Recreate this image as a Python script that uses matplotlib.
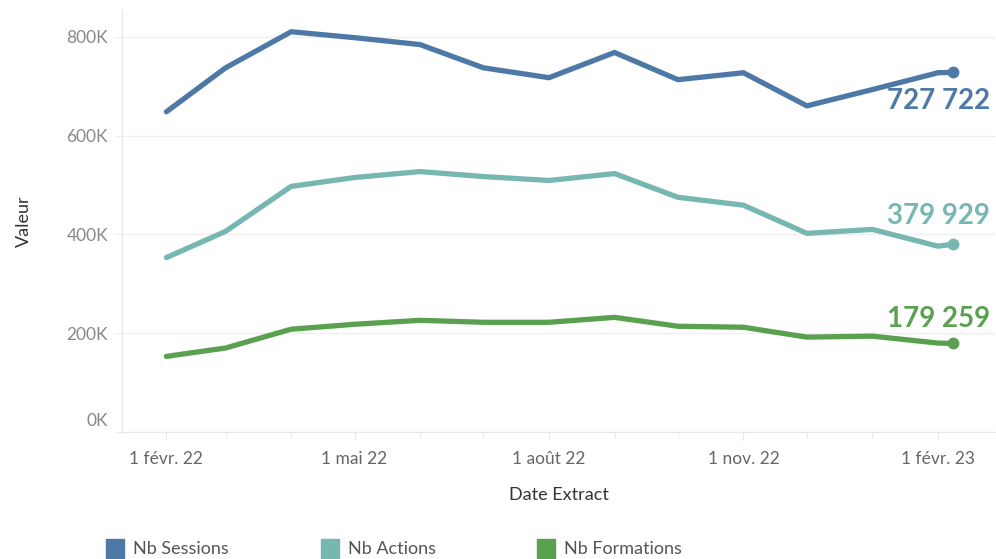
import matplotlib
matplotlib.use("Agg")
import matplotlib.pyplot as plt
import matplotlib.dates as mdates
import matplotlib.transforms as mtransforms
from matplotlib.patches import Rectangle
import numpy as np

dates = ["2022-02-01", "2022-03-01", "2022-04-01", "2022-05-01", "2022-06-01", "2022-07-01",
         "2022-08-01", "2022-09-01", "2022-10-01", "2022-11-01", "2022-12-01", "2023-01-01",
         "2023-02-01", "2023-02-08"]
sessions = [648000, 737000, 810000, 798000, 784000, 737000, 717000, 768000, 713000, 727000,
            660000, 693000, 727000, 727722]
actions = [353000, 406000, 497000, 515000, 527000, 517000, 509000, 523000, 475000, 459000,
           402000, 410000, 376000, 379929]
formations = [153000, 170000, 208000, 218000, 226000, 222000, 222000, 232000, 214000, 212000,
              192000, 194000, 180000, 179259]
series_names = ["Nb Sessions", "Nb Actions", "Nb Formations"]
colors = ["#4e79a7", "#76b7b2", "#59a14f"]
yticks = [0, 200000, 400000, 600000, 800000]
ytick_labels = ["0K", "200K", "400K", "600K", "800K"]
xtick_dates = ["2022-02-01", "2022-05-01", "2022-08-01", "2022-11-01", "2023-02-01"]
xtick_labels = ["1 févr. 22", "1 mai 22", "1 août 22", "1 nov. 22", "1 févr. 23"]

plt.rcParams['font.family'] = ['Lato', 'DejaVu Sans']

x = np.array(dates, dtype="datetime64[D]")
fig = plt.figure(figsize=(9.96, 5.59), dpi=100)
ax = fig.add_axes([122/996, 1-432/559, (995-122)/996, (432-10)/559])

label_offsets = [-29, 28, 24]
for vals, c, off in zip([sessions, actions, formations], colors, label_offsets):
    ax.plot(x, vals, color=c, lw=3.8, solid_capstyle="round", solid_joinstyle="round", zorder=3)
    ax.plot(x[-1:], vals[-1:], "o", color=c, ms=7.5, zorder=4)
    txt = f"{vals[-1]:,}".replace(",", " ")
    ax.annotate(txt, xy=(x[-1], vals[-1]), xytext=(37, off), textcoords="offset pixels",
                ha="right", va="center", fontsize=20, fontweight="bold", color=c, zorder=5,
                annotation_clip=False)

ax.set_ylim(0, 854000)
ax.set_xlim(np.datetime64("2022-01-11"), np.datetime64("2023-02-28"))
ax.set_yticks(yticks)
ax.set_yticklabels(ytick_labels)
ax.set_xticks(np.array(xtick_dates, dtype="datetime64[D]"))
ax.set_xticklabels(xtick_labels)
ax.xaxis.set_minor_locator(mdates.MonthLocator())

ax.grid(axis="y", color="#efefef", lw=1)
ax.set_axisbelow(True)
for s in ["top", "right"]:
    ax.spines[s].set_visible(False)
ax.spines["left"].set_color("#e6e6e6")
ax.spines["bottom"].set_color("#e6e6e6")
ax.tick_params(axis="y", length=6, color="#efefef", labelsize=12.5, labelcolor="#888888", pad=4)
ax.tick_params(axis="x", which="major", length=6, color="#e6e6e6", labelsize=12.5, labelcolor="#666666", pad=8)
ax.tick_params(axis="x", which="minor", length=4, color="#e6e6e6")

lbl0 = ax.get_yticklabels()[0]
lbl0.set_transform(lbl0.get_transform() + mtransforms.ScaledTranslation(0, 12/100, fig.dpi_scale_trans))

ax.set_ylabel("Valeur", fontsize=13, color="#333333")
ax.yaxis.set_label_coords(-0.1145 + 10/873, 0.5)
ax.set_xlabel("Date Extract", fontsize=13, color="#333333", labelpad=14)

lx = [106, 321, 537]
for px, name, c in zip(lx, series_names, colors):
    fig.patches.append(Rectangle((px/996, 0), 18/996, 20/559, transform=fig.transFigure,
                                 color=c, figure=fig))
    fig.text((px+27)/996, 10/559, name, fontsize=13, color="#555555", va="center", ha="left")

fig.savefig("out.png", dpi=100)
